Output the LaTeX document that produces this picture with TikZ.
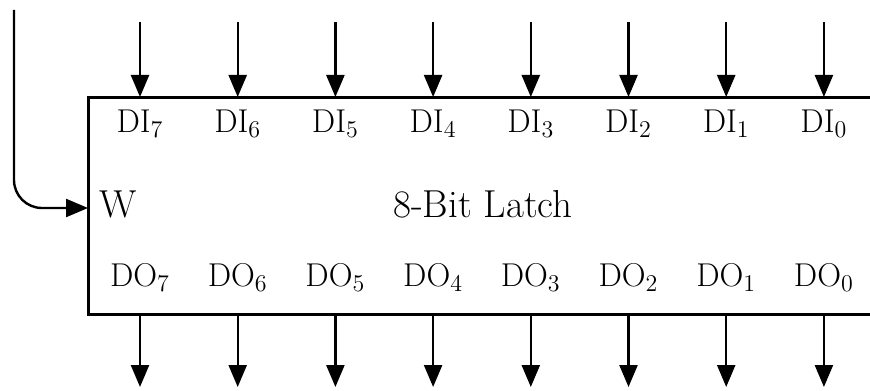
\documentclass[tikz,border=0pt]{standalone}
\usepackage{tikz}
\usetikzlibrary{arrows.meta,positioning,calc}
\tikzset{every picture/.style={line width=0.75pt}}
\tikzset{
  pin/.style={-{Triangle[width=9pt,length=11pt]}, line width=1.2pt},
  lbl/.style={inner sep=0pt, anchor=base, font=\fontsize{16.5}{20}\selectfont},
  biglbl/.style={lbl, font=\fontsize{19.5}{23}\selectfont}
}

\begin{document}
\begin{tikzpicture}[x=0.5pt, y=-0.5pt]
    \clip (0,0) rectangle (870,390);
    % 锁存器外框
    \draw[line width=1.5pt] (960,97) -- (88,97) -- (88,314) -- (960,314);
    \coordinate (wpin) at (88,208);
    \node[biglbl, anchor=base west] (wlbl) at (99,217) {W};
    \node[biglbl] (title) at (483,217) {8-Bit Latch};

    % 写入信号
    \coordinate (wsrc) at (14,10);
    \draw[pin, rounded corners=14pt] (wsrc) |- (wpin);

    % 数据输入与输出
    \foreach \i [evaluate=\i as \x using {140+97.7*(7-\i)}] in {7,...,0} {
        \coordinate (din\i) at (\x,22);
        \coordinate (itop\i) at (\x,97);
        \coordinate (obot\i) at (\x,314);
        \coordinate (dout\i) at (\x,387);
        \node[lbl] (di\i) at (\x,132) {DI$_{\i}$};
        \node[lbl] (do\i) at (\x,286) {DO$_{\i}$};
        \draw[pin] (din\i) -- (itop\i);
        \draw[pin] (obot\i) -- (dout\i);
    }
\end{tikzpicture}
\end{document}
